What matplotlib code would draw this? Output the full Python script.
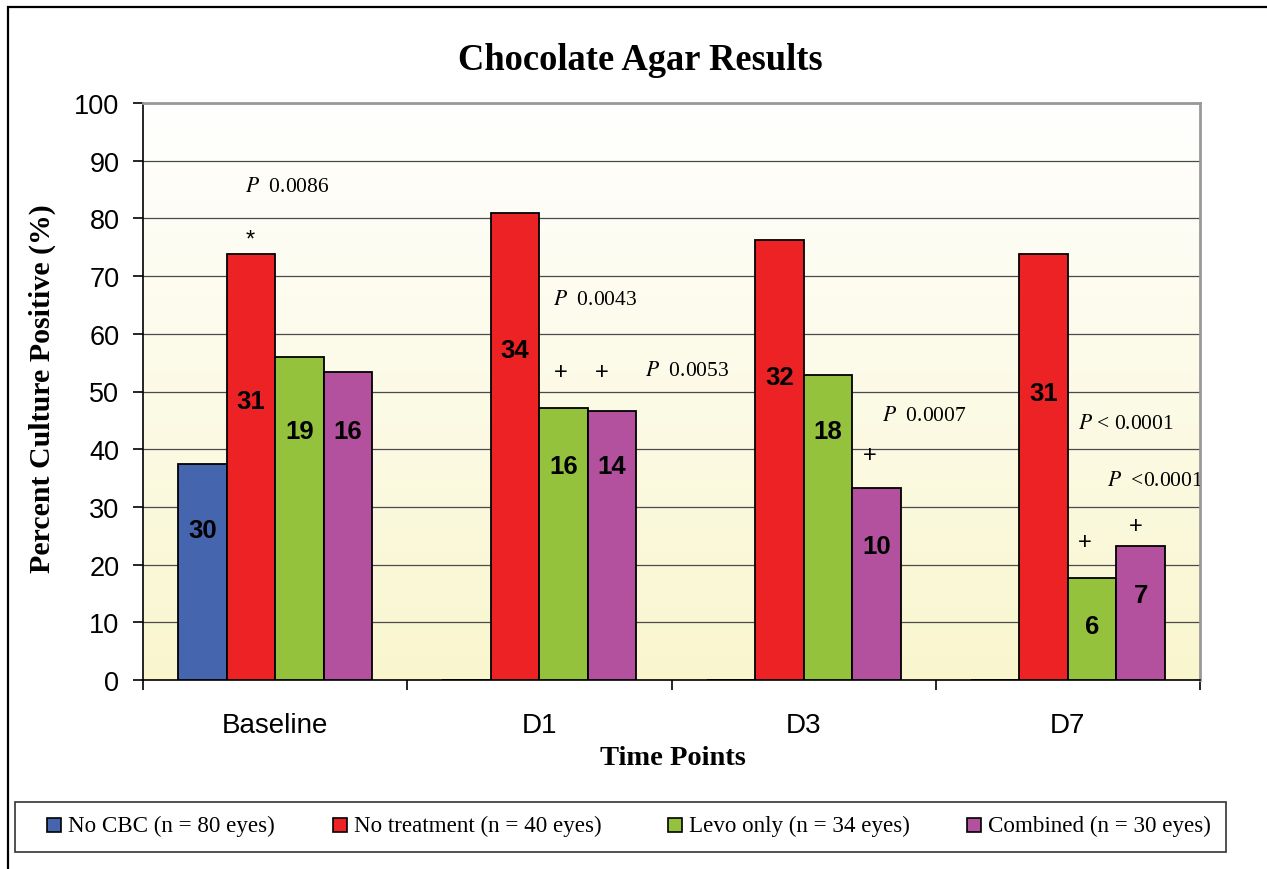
import numpy as np
import matplotlib
matplotlib.use("Agg")
import matplotlib.pyplot as plt
from matplotlib.patches import Rectangle

plt.rcParams['mathtext.fontset'] = 'stix'

# data
categories = ['Baseline', 'D1', 'D3', 'D7']
series = ['No CBC (n = 80 eyes)', 'No treatment (n = 40 eyes)',
          'Levo only (n = 34 eyes)', 'Combined (n = 30 eyes)']
colors = ['#4565AE', '#ED2224', '#95C23D', '#B3519F']
no_cbc = [37.5, 0, 0, 0]
no_treat = [73.8, 80.9, 76.3, 73.8]
levo = [55.9, 47.1, 52.9, 17.6]
combined = [53.3, 46.7, 33.3, 23.3]
values = [no_cbc, no_treat, levo, combined]

# counts written inside bars (None = no label), and label heights
counts = [[30, None, None, None],
          [31, 34, 32, 31],
          [19, 16, 18, 6],
          [16, 14, 10, 7]]
count_y = [[26.0, 0, 0, 0],
           [48.4, 57.2, 52.5, 49.7],
           [43.2, 37.1, 43.2, 9.4],
           [43.2, 37.1, 23.2, 14.7]]

# p-value annotations (x start, y, text)
p_x = [-0.114, 1.052, 1.400, 2.297, 3.038, 3.148]
p_y = [85.6, 65.9, 53.6, 45.8, 44.5, 34.5]
p_txt = ['$P$  0.0086', '$P$  0.0043', '$P$  0.0053', '$P$  0.0007',
         '$P$ < 0.0001', '$P$  <0.0001']

# significance marks
m_x = [-0.093, 1.080, 1.235, 2.251, 3.065, 3.258]
m_y = [76.3, 53.4, 53.4, 39.0, 23.9, 26.7]
m_txt = ['*', '+', '+', '+', '+', '+']

W, H = 1267, 870
fig = plt.figure(figsize=(W / 100, H / 100), dpi=100)
ax = fig.add_axes([143 / W, 1 - 681 / H, (1200 - 143) / W, (681 - 104) / H])

# gradient background
grad = np.linspace(0, 1, 256).reshape(-1, 1)
top = np.array([1.0, 1.0, 1.0])
bot = np.array([249, 246, 206]) / 255
img = top + (bot - top) * grad[..., None]
ax.imshow(img, extent=[-0.5, 3.5, 0, 100], aspect='auto', origin='upper', zorder=0)

ax.set_xlim(-0.5, 3.5)
ax.set_ylim(0, 100)
ax.set_yticks(np.arange(0, 101, 10))
ax.yaxis.grid(True, color='#4a4a4a', lw=0.9)
ax.set_axisbelow(True)
for g in ax.get_ygridlines():
    g.set_zorder(1)

w = 0.1835
x = np.arange(len(categories))
for i, (vals, c) in enumerate(zip(values, colors)):
    pos = x + (i - 1.5) * w
    ax.bar(pos, vals, width=w, color=c, edgecolor='black', lw=1.3, zorder=3)
    for j in range(len(categories)):
        if counts[i][j] is not None:
            ax.text(pos[j], count_y[i][j], str(counts[i][j]), ha='center', va='center',
                    fontsize=18.5, fontweight='bold', family='Liberation Sans', zorder=4)

for px, py, t in zip(p_x, p_y, p_txt):
    ax.text(px, py, t, ha='left', va='center', fontsize=15.5,
            family='Liberation Serif', zorder=4, clip_on=True)
for mx, my, t in zip(m_x, m_y, m_txt):
    ax.text(mx, my, t, ha='center', va='center', fontsize=17,
            family='Liberation Sans', zorder=4)

# axes styling
ax.spines['top'].set_color('#999999')
ax.spines['right'].set_color('#999999')
ax.spines['top'].set_linewidth(2)
ax.spines['right'].set_linewidth(2)
ax.spines['left'].set_linewidth(1.2)
ax.spines['bottom'].set_linewidth(1.2)

ax.set_xticks([-0.5, 0.5, 1.5, 2.5, 3.5])
ax.set_xticklabels([])
ax.set_xticks(x, minor=True)
ax.set_xticklabels(categories, minor=True, fontsize=20, family='Liberation Sans')
ax.tick_params(axis='x', which='major', direction='out', length=7, width=1.2)
ax.tick_params(axis='x', which='minor', length=0, pad=23)
ax.tick_params(axis='y', direction='out', length=7, width=1.2, pad=10)
for lab in ax.get_yticklabels():
    lab.set_fontsize(19.5)
    lab.set_family('Liberation Sans')

fig.text(640 / W, 1 - 61 / H, 'Chocolate Agar Results', ha='center', va='center',
         fontsize=26.3, fontweight='bold', family='Liberation Serif')
fig.text(42 / W, 1 - 389 / H, 'Percent Culture Positive (%)', ha='center', va='center',
         rotation=90, fontsize=21.5, fontweight='bold', family='Liberation Serif')
fig.text(673 / W, 1 - 759 / H, 'Time Points', ha='center', va='center',
         fontsize=20.5, fontweight='bold', family='Liberation Serif')

# outer chart border
fig.patches.append(Rectangle((8 / W, -0.05), 1.1, 1 - 8 / H + 0.05, transform=fig.transFigure,
                             fill=False, edgecolor='black', lw=1.6))

# legend box
fig.patches.append(Rectangle((15 / W, 1 - 853 / H), (1226 - 15) / W, 50 / H,
                             transform=fig.transFigure, fill=False, edgecolor='#333333', lw=1.2))
leg_x = [47, 333, 668, 967]
for lx, c, s in zip(leg_x, colors, series):
    fig.patches.append(Rectangle((lx / W, 1 - 833 / H), 14 / W, 14 / H, transform=fig.transFigure,
                                 facecolor=c, edgecolor='black', lw=1.2))
    fig.text((lx + 21) / W, 1 - 826 / H, s, ha='left', va='center', fontsize=16.6,
             family='Liberation Serif')

fig.savefig('out.png', dpi=100)
